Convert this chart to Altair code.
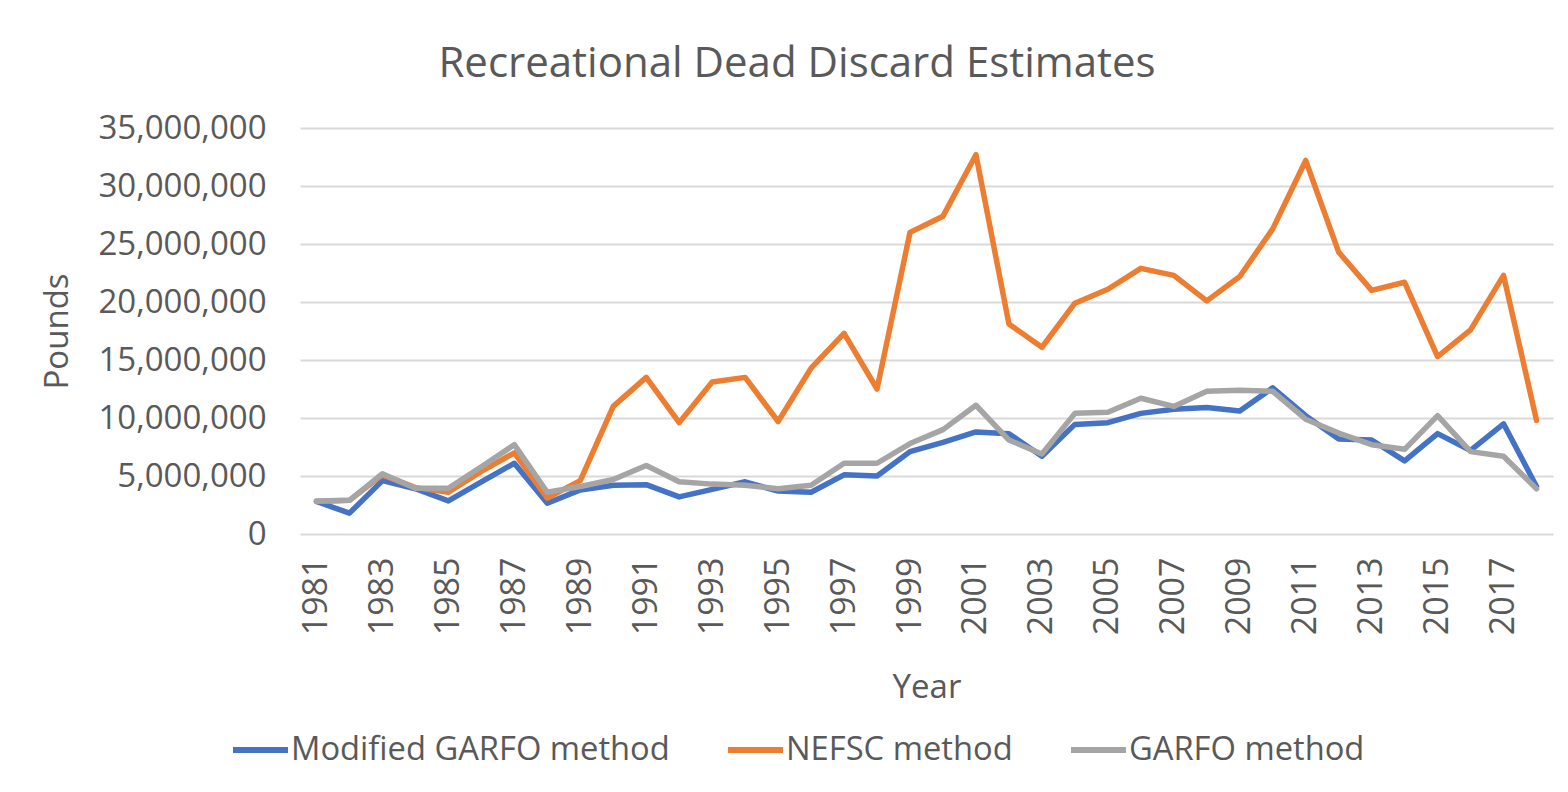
import altair as alt
import pandas as pd

years = [1981, 1982, 1983, 1984, 1985, 1986, 1987, 1988, 1989, 1990,
         1991, 1992, 1993, 1994, 1995, 1996, 1997, 1998, 1999, 2000,
         2001, 2002, 2003, 2004, 2005, 2006, 2007, 2008, 2009, 2010,
         2011, 2012, 2013, 2014, 2015, 2016, 2017, 2018]

# values in millions of pounds
modified_garfo = [2.8, 1.8, 4.6, 3.9, 2.85, 4.5, 6.1, 2.65, 3.8, 4.2, 4.25,
                  3.2, 3.85, 4.5, 3.7, 3.6, 5.1, 5.0, 7.1, 7.9, 8.8, 8.65, 6.7, 9.45,
                  9.6, 10.4, 10.75, 10.9, 10.6, 12.6, 10.2, 8.2, 8.1, 6.3, 8.65, 7.2, 9.5, 4.1]
nefsc = [2.8, 2.9, 5.1, 4.0, 3.6, 5.4, 7.0, 3.1, 4.6, 11.0, 13.5,
         9.6, 13.1, 13.5, 9.7, 14.3, 17.3, 12.5, 26.0, 27.4, 32.7, 18.1, 16.1, 19.9,
         21.1, 22.9, 22.3, 20.1, 22.2, 26.3, 32.2, 24.3, 21.0, 21.7, 15.3, 17.6, 22.3, 9.8]
garfo = [2.85, 2.9, 5.2, 3.95, 3.95, 5.8, 7.7, 3.6, 4.1, 4.7, 5.9,
         4.5, 4.3, 4.2, 3.9, 4.2, 6.1, 6.1, 7.8, 9.0, 11.1, 8.1, 6.9, 10.4,
         10.5, 11.7, 11.0, 12.3, 12.4, 12.3, 9.9, 8.7, 7.7, 7.3, 10.2, 7.1, 6.7, 3.9]

series_names = ["Modified GARFO method", "NEFSC method", "GARFO method"]
series_colors = ["#4472C4", "#ED7D31", "#A5A5A5"]
label_years = [1981, 1983, 1985, 1987, 1989, 1991, 1993, 1995, 1997, 1999,
               2001, 2003, 2005, 2007, 2009, 2011, 2013, 2015, 2017]
y_ticks = [0, 5_000_000, 10_000_000, 15_000_000, 20_000_000,
           25_000_000, 30_000_000, 35_000_000]

rows = []
for name, vals in zip(series_names, [modified_garfo, nefsc, garfo]):
    for y, v in zip(years, vals):
        rows.append({"Year": y, "Series": name, "Pounds": v * 1_000_000})
df = pd.DataFrame(rows)

FONT = "Open Sans"
TXT = "#595959"

color = alt.Color(
    "Series:N",
    scale=alt.Scale(domain=series_names, range=series_colors),
    legend=alt.Legend(
        title=None, orient="none", direction="horizontal",
        legendX=-70, legendY=591,
        symbolType="stroke", symbolSize=3025, symbolStrokeWidth=6,
        labelFontSize=32.7, labelFont=FONT, labelColor=TXT, labelOffset=0,
        columnPadding=46, labelLimit=600,
    ),
)

x = alt.X(
    "Year:O",
    title="Year",
    axis=alt.Axis(
        values=label_years, labelAngle=270, labelFontSize=34, labelFont=FONT,
        labelColor=TXT, ticks=False, domain=False, labelPadding=23,
        titleFontSize=33, titleFont=FONT, titleColor=TXT, titleFontWeight="normal",
        titlePadding=37,
    ),
)
y = alt.Y(
    "Pounds:Q",
    title="Pounds",
    scale=alt.Scale(domain=[0, 35_000_000]),
    axis=alt.Axis(
        values=y_ticks, format=",.0f",
        labelFontSize=33, labelFont=FONT, labelColor=TXT, ticks=False, domain=False,
        labelPadding=34, gridColor="#D9D9D9", gridWidth=2,
        titleFontSize=33, titleFont=FONT, titleColor=TXT, titleFontWeight="normal",
        titlePadding=26,
    ),
)

layers = []
for name in series_names:
    layers.append(
        alt.Chart(df)
        .transform_filter(alt.datum.Series == name)
        .mark_line(strokeWidth=5.5, strokeJoin="round", strokeCap="round")
        .encode(x=x, y=y, color=color)
    )

chart = (
    alt.layer(*layers)
    .properties(
        width=1253, height=406,
        title=alt.Title(
            "Recreational Dead Discard Estimates", fontSize=42, font=FONT,
            color=TXT, fontWeight="normal", anchor="middle", frame="bounds", offset=26,
        ),
        padding={"left": 33, "top": 35, "right": 7, "bottom": 5},
        background="white",
    )
    .configure_view(strokeWidth=0)
)

chart.save("out.html", embed_options={"renderer": "svg", "actions": False})
